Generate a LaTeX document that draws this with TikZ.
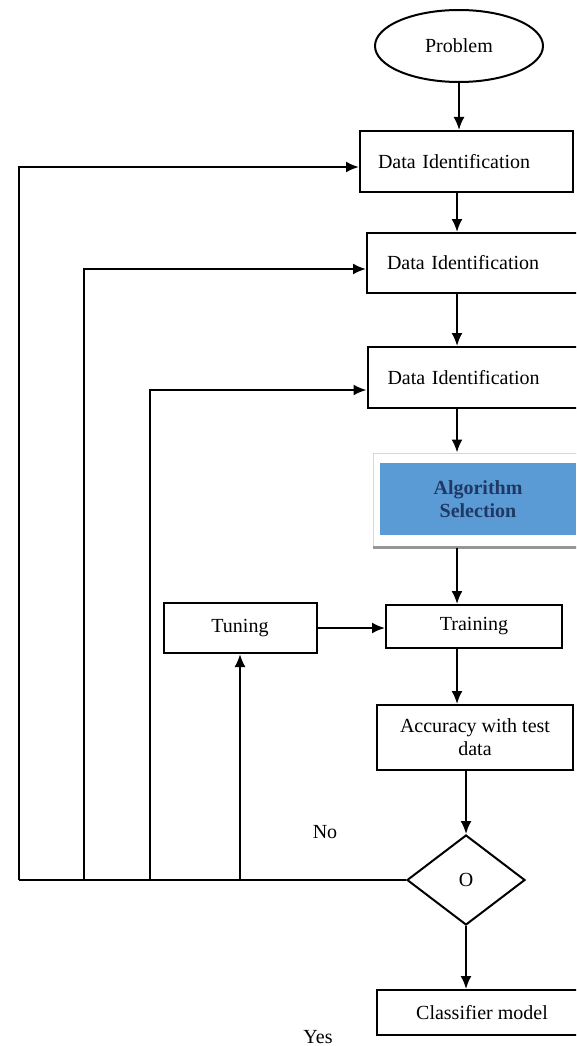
\documentclass[tikz,border=0pt]{standalone}
\usepackage{fontspec}
\setmainfont{Liberation Serif}
\usetikzlibrary{shapes.geometric,arrows.meta}
\definecolor{algoblue}{RGB}{91,155,213}
\definecolor{algotext}{RGB}{31,56,100}
\definecolor{framegray}{RGB}{215,215,215}
\definecolor{shadowgray}{RGB}{150,150,150}
\newcommand{\boxFont}{\fontsize{20}{23}\selectfont}

\begin{document}
\begin{tikzpicture}[x=1pt, y=-1pt, line width=2pt, >={Latex[length=13pt,width=11pt]}]
  \tikzset{every node/.style={font=\boxFont, inner sep=0pt},
    stepbox/.style={draw, rectangle, align=center},
    idbox/.style={draw, rectangle, align=left, minimum height=61pt},
    flow/.style={->}}
  \useasboundingbox (0,0) rectangle (576,1046);
  \clip (0,0) rectangle (576,1046);
  \node[draw, ellipse, minimum width=168pt, minimum height=72pt] (problem) at (459,46) {Problem};
  \node[idbox, inner xsep=18pt, text width=177pt] (id-1) at (466.5,161.5) {Data Identification};
  \node[idbox, inner xsep=20pt, text width=183pt, minimum height=60pt] (id-2) at (478.5,263) {Data Identification};
  \node[idbox, inner xsep=20pt, text width=183pt] (id-3) at (479,377.5) {Data Identification};
  \node[draw=framegray, line width=1pt, minimum width=217pt, minimum height=94pt] (algo-frame) at (481.5,500) {};
  \node[fill=algoblue, align=center, text=algotext, font=\boxFont\bfseries, minimum width=196pt, minimum height=72pt] (algo) at (478,499) {Algorithm\\Selection};
  \node[stepbox, minimum width=176pt, minimum height=43pt] (training) at (474,626.5) {Training};
  \node[stepbox, minimum width=153pt, minimum height=50pt] (tuning) at (240,628) {Tuning};
  \node[stepbox, minimum width=196pt, minimum height=65pt] (accuracy) at (475,737.5) {Accuracy with test\\data};
  \node[draw, diamond, minimum width=118pt, minimum height=90pt] (decision) at (466,880) {O};
  \node[stepbox, minimum width=210pt, minimum height=45pt] (classifier) at (482,1012.5) {Classifier model};
  \node (no) at (325,832) {No};
  \node (yes) at (318,1037) {Yes};
  \coordinate (spine) at (457,0);
  \coordinate (back-1) at (19,0);
  \coordinate (back-2) at (84,0);
  \coordinate (back-3) at (150,0);
  \draw[shadowgray, line width=3pt] (algo-frame.south west) -- (algo-frame.south east);
  \draw[flow] (problem) -- (problem |- id-1.north);
  \draw[flow] (id-1.south -| spine) -- (id-2.north -| spine);
  \draw[flow] (id-2.south -| spine) -- (id-3.north -| spine);
  \draw[flow] (id-3.south -| spine) -- (algo-frame.north -| spine);
  \draw[flow] (algo-frame.south -| spine) -- (training.north -| spine);
  \draw[flow] (training.south -| spine) -- (accuracy.north -| spine);
  \draw[flow] (accuracy.south -| decision) -- (decision.north);
  \draw[flow] (decision) -- (decision |- classifier.north);
  \draw[flow] (tuning.east) -- (tuning.east -| training.west);
  \draw (decision.west) -- (decision.west -| back-1);
  \draw[flow] (decision.west -| back-1) |- ([yshift=-5.5pt]id-1.west);
  \draw[flow] (decision.west -| back-2) |- ([yshift=-6pt]id-2.west);
  \draw[flow] (decision.west -| back-3) |- ([yshift=-12.5pt]id-3.west);
  \draw[flow] (decision.west -| tuning) -- (tuning.south);
\end{tikzpicture}
\end{document}
